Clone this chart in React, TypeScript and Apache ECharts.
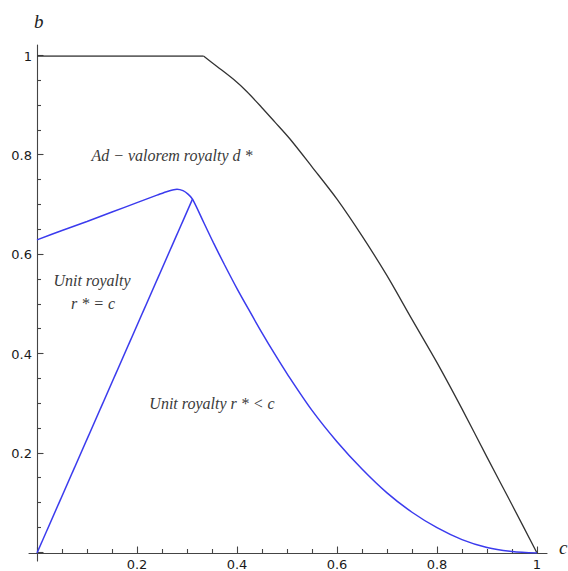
import React, { useEffect, useRef } from "react";
import * as echarts from "echarts";

// Black boundary: flat part and falling part
const blackFlat: [number, number][] = [
  [0, 1], [0.333, 1],
];
const blackCurve: [number, number][] = [
  [0.333, 1], [0.36, 0.979], [0.393, 0.953], [0.42, 0.928], [0.449, 0.897],
  [0.475, 0.868], [0.506, 0.833], [0.55, 0.777], [0.6, 0.712], [0.65, 0.638],
  [0.7, 0.558], [0.75, 0.47], [0.8, 0.383], [0.85, 0.29], [0.9, 0.193],
  [0.95, 0.097], [1, 0],
];

// Blue curve: rises from (0,0.63) to a peak, then falls to (1,0)
const blueCurve: [number, number][] = [
  [0, 0.63], [0.05, 0.649], [0.1, 0.667], [0.15, 0.686], [0.2, 0.705],
  [0.24, 0.72], [0.262, 0.728], [0.28, 0.732], [0.292, 0.729], [0.302, 0.722],
  [0.311, 0.712], [0.333, 0.666], [0.353, 0.624], [0.375, 0.58], [0.4, 0.532],
  [0.425, 0.487], [0.45, 0.443], [0.475, 0.401], [0.5, 0.361], [0.55, 0.287],
  [0.6, 0.224], [0.65, 0.169], [0.7, 0.121], [0.75, 0.082], [0.8, 0.051],
  [0.85, 0.027], [0.9, 0.011], [0.95, 0.003], [1, 0],
];

// Blue straight boundary from the origin to the junction point
const blueLine: [number, number][] = [
  [0, 0], [0.311, 0.712],
];

// Tick positions (major every 0.2, minor every 0.05)
const majorTicks = [0, 0.2, 0.4, 0.6, 0.8, 1];
const minorTicks = [
  0.05, 0.1, 0.15, 0.25, 0.3, 0.35, 0.45, 0.5, 0.55, 0.65, 0.7, 0.75, 0.85, 0.9, 0.95,
];
const tickStep = 0.2;

export default function App() {
  const ref = useRef<HTMLDivElement>(null);

  useEffect(() => {
    const chart = echarts.init(ref.current!, null, { renderer: "svg" });
    const axisColor = "#444";
    const labelStyle = {
      fontSize: 13,
      color: "#1a1a1a",
      fontFamily: "DejaVu Sans",
    };
    const serif = {
      fontFamily: "Liberation Serif",
      fontStyle: "italic",
      fill: "#3a3a3a",
    };
    const mainAxis = {
      type: "value",
      min: 0,
      max: 1,
      interval: tickStep,
      splitLine: { show: false },
      axisLine: { show: false, onZero: false },
      axisTick: { show: false },
      minorTick: { show: false },
      axisLabel: { show: true, showMinLabel: false, margin: 5, ...labelStyle },
    };
    const lineAxis = {
      type: "value",
      splitLine: { show: false },
      axisLine: { show: true, onZero: true, lineStyle: { color: axisColor, width: 1.1 } },
      axisTick: { show: false },
      axisLabel: { show: false },
    };
    const allTicks = [
      ...majorTicks.map((v) => ({ v, major: 1 })),
      ...minorTicks.map((v) => ({ v, major: 0 })),
    ];
    const tickSeries = (dir: "x" | "y") => ({
      type: "custom",
      xAxisIndex: 0,
      yAxisIndex: 0,
      clip: false,
      silent: true,
      data: allTicks.map((t) => (dir === "x" ? [t.v, 0, t.major] : [0, t.v, t.major])),
      encode: { x: 0, y: 1 },
      renderItem: (_params: any, api: any) => {
        const p = api.coord([api.value(0), api.value(1)]);
        const len = api.value(2) ? 6.5 : 4;
        const x = Math.round(p[0]) + 0.5;
        const y = Math.round(p[1]) - 0.5;
        const shape =
          dir === "x"
            ? { x1: x, y1: p[1], x2: x, y2: p[1] - len }
            : { x1: p[0], y1: y, x2: p[0] + len, y2: y };
        return {
          type: "line",
          shape,
          style: { stroke: axisColor, lineWidth: 1.1 },
        };
      },
    });
    chart.setOption({
      animation: false,
      grid: [
        { left: 37, right: 31, top: 56, bottom: 18, containLabel: false },
        { left: 29, right: 21, top: 45, bottom: 10, containLabel: false },
      ],
      xAxis: [
        { ...mainAxis, gridIndex: 0, position: "bottom" },
        { ...lineAxis, gridIndex: 1, min: -0.016, max: 1.02, position: "bottom" },
      ],
      yAxis: [
        { ...mainAxis, gridIndex: 0, position: "left" },
        { ...lineAxis, gridIndex: 1, min: -0.016, max: 1.022, position: "left" },
      ],
      series: [
        tickSeries("x"),
        tickSeries("y"),
        {
          type: "line", data: blackFlat, xAxisIndex: 0, yAxisIndex: 0,
          symbol: "none", smooth: false, lineStyle: { color: "#333", width: 1.3 },
        },
        {
          type: "line", data: blackCurve, xAxisIndex: 0, yAxisIndex: 0,
          symbol: "none", smooth: 0.3, lineStyle: { color: "#333", width: 1.3 },
        },
        {
          type: "line", data: blueCurve, xAxisIndex: 0, yAxisIndex: 0,
          symbol: "none", smooth: 0.3, lineStyle: { color: "#3b3bee", width: 1.5 },
        },
        {
          type: "line", data: blueLine, xAxisIndex: 0, yAxisIndex: 0,
          symbol: "none", smooth: false, lineStyle: { color: "#3b3bee", width: 1.5 },
        },
      ],
      graphic: [
        { type: "text", left: 34, top: 12, style: { text: "b", fontSize: 19, ...serif, fill: "#222" } },
        { type: "text", left: 559, top: 538, style: { text: "c", fontSize: 19, ...serif, fill: "#222" } },
        {
          type: "text", x: 172, y: 155,
          style: { text: "Ad − valorem royalty d *", fontSize: 16, ...serif, align: "center", verticalAlign: "middle" },
        },
        {
          type: "text", x: 92, y: 280,
          style: { text: "Unit royalty", fontSize: 16, ...serif, align: "center", verticalAlign: "middle" },
        },
        {
          type: "text", x: 93, y: 303,
          style: { text: "r * = c", fontSize: 16, ...serif, align: "center", verticalAlign: "middle" },
        },
        {
          type: "text", x: 212, y: 403,
          style: { text: "Unit royalty r * < c", fontSize: 16, ...serif, align: "center", verticalAlign: "middle" },
        },
      ],
    });
    return () => chart.dispose();
  }, []);

  return <div ref={ref} style={{ width: 568, height: 571, position: "absolute", left: 0, top: 0 }} />;
}
